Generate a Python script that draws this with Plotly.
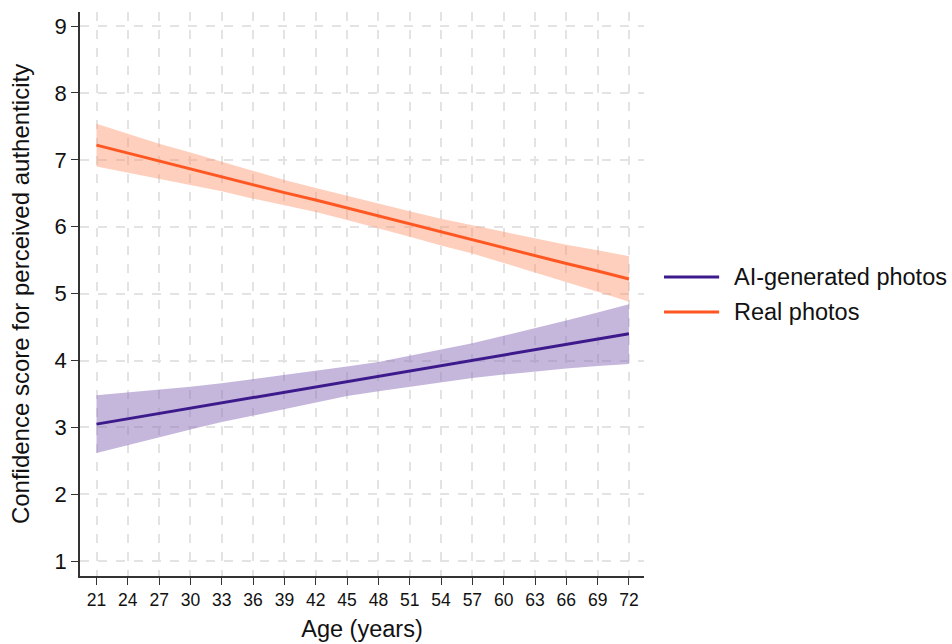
import plotly.graph_objects as go

ages = [21, 24, 27, 30, 33, 36, 39, 42, 45, 48, 51, 54, 57, 60, 63, 66, 69, 72]

ai_mean = [3.05, 3.13, 3.21, 3.29, 3.37, 3.45, 3.53, 3.61, 3.69, 3.76, 3.84, 3.92, 4.00, 4.08, 4.16, 4.24, 4.32, 4.40]
ai_low = [2.62, 2.74, 2.86, 2.97, 3.08, 3.18, 3.28, 3.38, 3.47, 3.54, 3.61, 3.68, 3.74, 3.79, 3.84, 3.88, 3.92, 3.95]
ai_high = [3.48, 3.52, 3.56, 3.61, 3.66, 3.72, 3.78, 3.84, 3.91, 3.98, 4.07, 4.16, 4.26, 4.37, 4.48, 4.60, 4.72, 4.84]

real_mean = [7.22, 7.10, 6.98, 6.87, 6.75, 6.63, 6.51, 6.40, 6.28, 6.16, 6.04, 5.92, 5.81, 5.69, 5.57, 5.45, 5.34, 5.22]
real_low = [6.90, 6.81, 6.72, 6.63, 6.53, 6.42, 6.32, 6.22, 6.10, 5.98, 5.85, 5.72, 5.60, 5.46, 5.32, 5.17, 5.03, 4.88]
real_high = [7.54, 7.39, 7.24, 7.11, 6.97, 6.84, 6.70, 6.58, 6.46, 6.34, 6.23, 6.12, 6.02, 5.92, 5.82, 5.73, 5.65, 5.56]

y_ticks = [1, 2, 3, 4, 5, 6, 7, 8, 9]
series_names = ["AI-generated photos", "Real photos"]

AI_LINE = "#3d1a8c"
AI_BAND = "rgba(140,110,185,0.5)"
REAL_LINE = "#ff5722"
REAL_BAND = "rgba(255,140,100,0.42)"

FONT = "Liberation Sans, Arial, Helvetica, sans-serif"

fig = go.Figure()

def add_series(x, lo, hi, mean, line_col, band_col, name):
    fig.add_trace(go.Scatter(x=x, y=hi, mode="lines", line=dict(width=0),
                             showlegend=False, hoverinfo="skip"))
    fig.add_trace(go.Scatter(x=x, y=lo, mode="lines", line=dict(width=0),
                             fill="tonexty", fillcolor=band_col,
                             showlegend=False, hoverinfo="skip"))
    fig.add_trace(go.Scatter(x=x, y=mean, mode="lines", name=name,
                             line=dict(color=line_col, width=3),
                             showlegend=False))

add_series(ages, real_low, real_high, real_mean, REAL_LINE, REAL_BAND, series_names[1])
add_series(ages, ai_low, ai_high, ai_mean, AI_LINE, AI_BAND, series_names[0])

# manual legend
legend_items = [(series_names[0], AI_LINE, 0.530), (series_names[1], REAL_LINE, 0.468)]
for name, col, yp in legend_items:
    fig.add_shape(type="line", xref="paper", yref="paper",
                  x0=1.0355, x1=1.1332, y0=yp, y1=yp,
                  line=dict(color=col, width=3))
    fig.add_annotation(xref="paper", yref="paper", x=1.156, y=yp,
                       text=name, showarrow=False, xanchor="left", yanchor="middle",
                       font=dict(family=FONT, size=23.5, color="#111"))

grid = dict(showgrid=True, gridcolor="#e3e3e3", gridwidth=1.6, griddash="dash")

fig.update_layout(
    width=952, height=644,
    margin=dict(l=80, r=308, t=12, b=68, autoexpand=False),
    paper_bgcolor="white", plot_bgcolor="white",
    font=dict(family=FONT, color="#111"),
    showlegend=False,
    xaxis=dict(range=[19.42, 73.44], tickmode="array", tickvals=ages,
               ticktext=[str(a) for a in ages], automargin=False,
               tickfont=dict(size=17.5), ticks="outside", ticklen=7, tickwidth=1.3,
               tickcolor="#333", showline=True, linecolor="#333", linewidth=1.5,
               zeroline=False,
               title=dict(text="Age (years)", font=dict(size=23.5), standoff=12),
               **grid),
    yaxis=dict(range=[0.78, 9.21], tickmode="array", tickvals=y_ticks,
               automargin=False,
               tickfont=dict(size=22), ticks="outside", ticklen=7, tickwidth=1.3,
               tickcolor="#333", showline=True, linecolor="#333", linewidth=1.5,
               zeroline=False,
               title=dict(text="Confidence score for perceived authenticity",
                          font=dict(size=24), standoff=18),
               **grid),
)

fig.write_html("out.html")
